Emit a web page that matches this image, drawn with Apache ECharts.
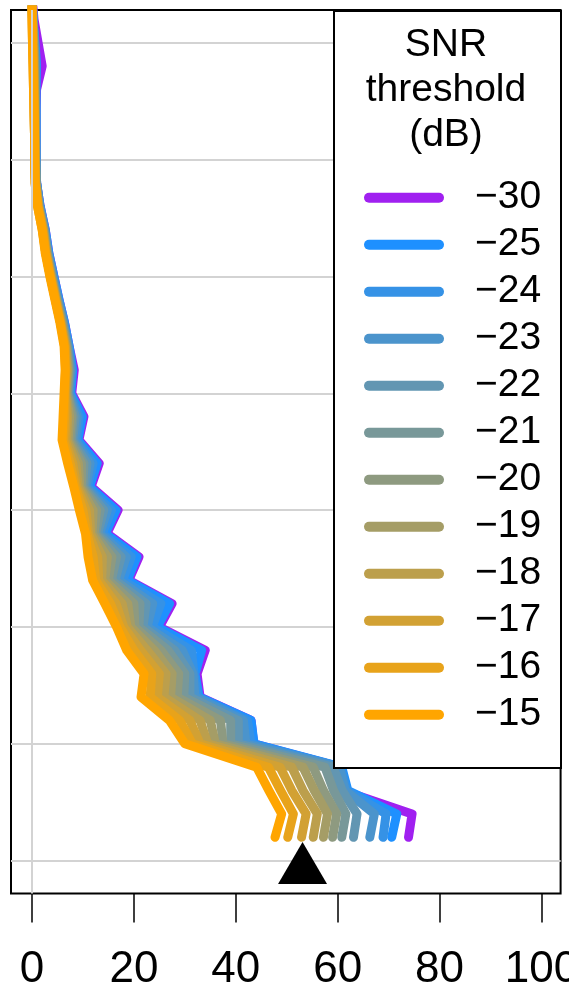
<!DOCTYPE html>
<html>
<head>
<meta charset="utf-8">
<script src="https://cdn.jsdelivr.net/npm/echarts@6/dist/echarts.min.js"></script>
<style>
html,body{margin:0;padding:0;background:#fff;}
#chart{width:569px;height:990px;}
</style>
</head>
<body>
<div id="chart"></div>
<script>
// ---- data ----
const depthSteps = [-2,-1,0,1,2,3,4,5,6,7,8,9,10,11,12,13,14,15,16,17,18,19,20,21,22,23,24,25,26,27,28,29,30,31,32,33,34];
const snrLabels = ['\u221230','\u221225','\u221224','\u221223','\u221222','\u221221','\u221220','\u221219','\u221218','\u221217','\u221216','\u221215'];
const xTickValues = [0,20,40,60,80,100];
const gridValues = [0,5,10,15,20,25,30,35];
const markerValue = [53.1, 35.1];

const snrM30 = [0,0.4,1.2,2.0,0.9,0.8,0.8,0.8,0.9,1.6,2.6,3.3,4.3,5.3,6.4,7.3,8.3,7.8,10.2,9.2,13.2,11.6,16.9,14.7,21.0,19.0,27.5,25.0,34.0,32.4,33.0,43.0,43.5,60.5,61.0,74.6,73.9];
const snrM25 = [0,0.2,0.6,0.9,0.8,0.8,0.8,0.8,0.9,1.6,2.6,3.3,4.3,5.3,6.4,7.3,8.0,7.6,9.9,9.0,12.8,11.3,16.5,14.4,20.6,18.7,27.0,24.6,33.3,32.0,32.8,43.0,43.6,60.8,62.0,71.6,70.6];
const snrM24 = [0,0.2,0.5,0.8,0.7,0.8,0.8,0.8,0.9,1.5,2.5,3.2,4.2,5.2,6.3,7.2,7.8,7.4,9.3,8.7,12.0,10.9,15.6,13.8,19.5,17.8,25.3,23.6,31.3,31.8,32.5,42.3,43.0,60.6,61.8,69.5,68.9];
const snrM23 = [0,0.2,0.5,0.7,0.7,0.7,0.7,0.8,0.9,1.5,2.5,3.1,4.1,5.1,6.2,7.1,7.6,7.3,8.9,8.4,11.4,10.6,14.8,13.3,18.5,17.0,23.7,22.6,29.5,31.6,32.0,41.5,42.0,60.3,61.5,67.2,66.3];
const snrM22 = [0,0.2,0.4,0.6,0.6,0.7,0.7,0.7,0.8,1.4,2.4,3.1,4.0,5.0,6.1,7.0,7.5,7.1,8.5,8.0,10.8,10.3,14.1,12.9,17.5,16.3,22.4,21.8,28.0,31.0,31.0,40.5,40.5,59.1,60.9,63.8,63.1];
const snrM21 = [0,0.1,0.4,0.5,0.6,0.6,0.7,0.7,0.8,1.4,2.3,3.0,3.9,4.9,6.0,6.9,7.3,7.0,8.1,7.7,10.2,10.0,13.4,12.5,16.6,15.6,21.2,21.0,26.7,30.0,29.8,39.0,39.0,57.5,59.2,61.6,60.8];
const snrM20 = [0,0.1,0.3,0.5,0.5,0.6,0.6,0.7,0.8,1.3,2.3,2.9,3.8,4.8,5.9,6.8,7.2,6.9,7.8,7.4,9.7,9.7,12.7,12.2,15.7,15.0,20.0,20.2,25.3,28.8,28.5,37.0,37.5,55.2,57.2,59.8,59.0];
const snrM19 = [0,0.1,0.3,0.4,0.5,0.5,0.6,0.6,0.7,1.3,2.2,2.9,3.8,4.8,5.8,6.7,7.0,6.7,7.4,7.1,9.1,9.4,12.0,11.8,14.8,14.3,18.8,19.4,24.0,27.5,27.2,35.0,36.0,53.2,55.4,58.0,57.2];
const snrM18 = [0,0.1,0.2,0.3,0.4,0.5,0.5,0.6,0.7,1.2,2.2,2.8,3.7,4.7,5.7,6.6,6.9,6.6,7.0,6.8,8.6,9.1,11.3,11.5,13.8,13.7,17.7,18.7,22.6,26.3,25.9,33.0,34.5,51.0,53.2,56.0,55.2];
const snrM17 = [0,0.1,0.2,0.3,0.4,0.4,0.5,0.6,0.7,1.2,2.1,2.7,3.6,4.6,5.6,6.5,6.7,6.5,6.7,6.5,8.0,8.8,10.6,11.1,12.9,13.1,16.5,18.0,21.3,25.0,24.6,31.0,33.0,48.7,51.0,53.8,52.9];
const snrM16 = [0,0.0,0.1,0.2,0.3,0.4,0.5,0.5,0.6,1.1,2.0,2.7,3.6,4.6,5.6,6.4,6.6,6.4,6.4,6.2,7.5,8.5,10.0,10.8,12.0,12.5,15.4,17.3,20.0,23.5,23.2,29.0,31.5,46.4,48.8,51.3,50.2];
const snrM15 = [0,0.0,0.1,0.2,0.3,0.4,0.5,0.5,0.6,1.1,2.0,2.6,3.5,4.5,5.5,6.3,6.5,6.3,6.1,5.9,7.0,8.2,9.3,10.5,11.0,11.9,14.3,16.6,18.6,22.0,21.4,27.0,30.0,44.1,46.5,49.0,47.7];

const seriesValues = [snrM30,snrM25,snrM24,snrM23,snrM22,snrM21,snrM20,snrM19,snrM18,snrM17,snrM16,snrM15];
const palette = ['#A020F0','#1E90FF','#3592E6','#4B94CC','#6296B2','#789899','#8E9A80','#A59D66','#BC9F4C','#D2A133','#E8A31A','#FFA500'];

const FONT = '"Liberation Sans", Arial, Helvetica, sans-serif';
const chart = echarts.init(document.getElementById('chart'), null, {renderer:'canvas'});

const lineSeries = seriesValues.map((vals, k) => ({
  name: snrLabels[k],
  type: 'line',
  data: vals.map((v, i) => [v, depthSteps[i]]),
  showSymbol: false,
  symbol: 'none',
  clip: true,
  z: 3,
  color: palette[k],
  itemStyle: {color: palette[k]},
  lineStyle: {color: palette[k], width: 9, cap: 'round', join: 'round'},
  emphasis: {disabled: true},
  animation: false
}));

const option = {
  animation: false,
  backgroundColor: '#fff',
  grid: {left: 11, top: 10, width: 549.6, height: 883.4, show: true, borderColor: '#000', borderWidth: 2,
         backgroundColor: 'transparent', containLabel: false, outerBoundsMode: 'none'},
  xAxis: {
    type: 'value', min: -4.12, max: 103.75,
    axisLine: {show: false, onZero: false},
    axisTick: {show: true, customValues: xTickValues, length: 29, lineStyle: {color: '#000', width: 1.5}},
    axisLabel: {show: true, customValues: xTickValues, margin: 54, fontSize: 44, color: '#000', fontFamily: FONT},
    splitLine: {show: false}
  },
  yAxis: {
    type: 'value', inverse: true, min: -1.4, max: 36.4,
    axisLine: {show: false, onZero: false},
    axisTick: {show: false, customValues: gridValues},
    axisLabel: {show: false, customValues: gridValues},
    splitLine: {show: true, lineStyle: {color: '#D3D3D3', width: 2}}
  },
  legend: {
    data: snrLabels,
    orient: 'vertical',
    left: 364, top: 174.2,
    padding: 0, itemGap: 0,
    itemWidth: 80, itemHeight: 10,
    z: 20, zlevel: 0,
    icon: 'path://M5,0 L75,0 A5,5 0 0 1 75,10 L5,10 A5,5 0 0 1 5,0 Z',
    selectedMode: false,
    textStyle: {fontSize: 39, color: '#000', fontFamily: FONT, lineHeight: 44, padding: [3,0,0,26]}
  },
  graphic: [
    {type: 'rect', left: 333, top: 10, shape: {width: 227, height: 757}, style: {fill: '#fff', stroke: '#000', lineWidth: 2}, z: 10},
    {type: 'text', x: 446, y: 45, style: {text: 'SNR', fontSize: 39, fontFamily: FONT, fill: '#000', align: 'center', verticalAlign: 'middle'}, z: 11},
    {type: 'text', x: 446, y: 90, style: {text: 'threshold', fontSize: 39, fontFamily: FONT, fill: '#000', align: 'center', verticalAlign: 'middle'}, z: 11},
    {type: 'text', x: 446, y: 135, style: {text: '(dB)', fontSize: 39, fontFamily: FONT, fill: '#000', align: 'center', verticalAlign: 'middle'}, z: 11}
  ],
  series: [
    {type: 'line', data: [], silent: true, z: 1,
     markLine: {silent: true, symbol: 'none', animation: false, label: {show: false},
       lineStyle: {color: '#D3D3D3', width: 2, type: 'solid'}, data: [{xAxis: 0}]}}
  ].concat(lineSeries).concat([
    {type: 'scatter', data: [markerValue], symbol: 'triangle', symbolSize: [49, 42], itemStyle: {color: '#000', opacity: 1}, z: 5, silent: true}
  ])
};
chart.setOption(option);
</script>
</body>
</html>
